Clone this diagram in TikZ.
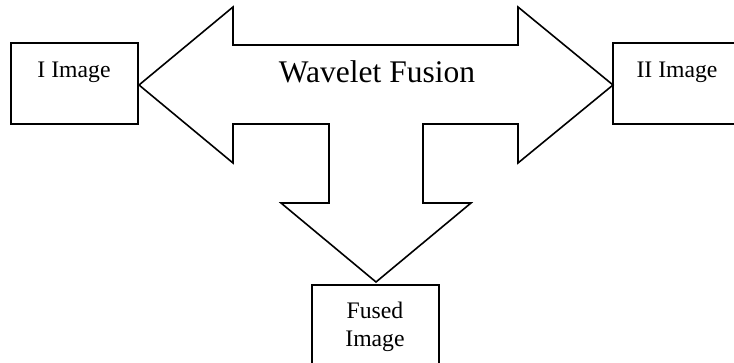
\documentclass[tikz,border=0pt]{standalone}
\usepackage{fontspec}
\setmainfont{Liberation Serif}
\begin{document}
\begin{tikzpicture}[x=1pt,y=-1pt,
  outline/.style={draw=black,line width=1.6pt,line join=miter},
  imgbox/.style={outline,fill=white},
  boxtext/.style={anchor=base,inner sep=0pt,font=\fontsize{23.7}{27.6}\selectfont},
  bigtext/.style={anchor=base,inner sep=0pt,font=\fontsize{31.5}{36}\selectfont}]
  \useasboundingbox (0,0) rectangle (734,363);
  \clip (0,0) rectangle (734,363);

  % image boxes (the right and bottom ones run off the page edge)
  \draw[imgbox] (11,43) rectangle (138,124);
  \draw[imgbox] (613,43) rectangle (745,124);
  \draw[imgbox] (312,285) rectangle (439,375);

  % three-way block arrow
  \draw[outline,fill=white]
    (139,85) -- (233,7) -- (233,45) -- (518,45) -- (518,7) -- (613,85)
    -- (518,163) -- (518,124) -- (423,124) -- (423,203) -- (471,203)
    -- (376,282) -- (281,203) -- (329,203) -- (329,124) -- (233,124)
    -- (233,163) -- cycle;

  % labels
  \node[boxtext] (img1) at (74,77.5) {I Image};
  \node[boxtext] (img2) at (677,77.5) {II Image};
  \node[bigtext] (fusion) at (377,83) {Wavelet Fusion};
  \node[boxtext] (fused1) at (375,319) {Fused};
  \node[boxtext] (fused2) at (375,346.5) {Image};
\end{tikzpicture}
\end{document}
